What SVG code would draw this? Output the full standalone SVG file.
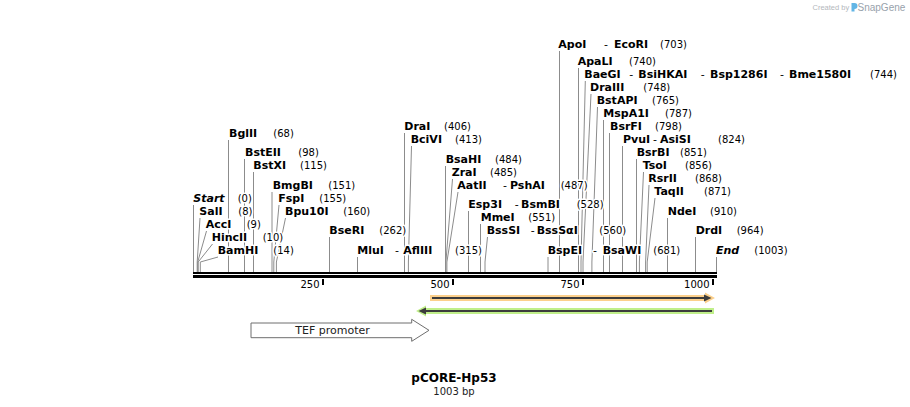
<svg xmlns="http://www.w3.org/2000/svg" width="910" height="407" viewBox="0 0 910 407">
<style>
text{font-family:"DejaVu Sans",Verdana,sans-serif;fill:#000;stroke:#fff;stroke-width:3;stroke-linejoin:round;paint-order:stroke}
.n{font-size:11px;font-weight:bold}
.i{font-style:italic}
.p{font-size:10px}
.h{font-size:11px}
.c{stroke:#8c8c8c;stroke-width:1;fill:none}
.tk{font-size:10px;text-anchor:end}
.wm{font-family:"Liberation Sans",Arial,sans-serif;stroke:none}
</style>
<rect width="910" height="407" fill="#fff"/>
<g id="connectors">
<line class="c" x1="193.5" y1="205" x2="193.5" y2="272"/>
<polyline class="c" points="200,218 197.2,262 197.2,272"/>
<polyline class="c" points="206.5,231 197.7,262 197.7,272"/>
<polyline class="c" points="212.5,244 198.2,262 198.2,272"/>
<polyline class="c" points="218,257 200.3,262 200.3,272"/>
<line class="c" x1="228.5" y1="140" x2="228.5" y2="272"/>
<line class="c" x1="244.5" y1="159" x2="244.5" y2="272"/>
<line class="c" x1="253.5" y1="172" x2="253.5" y2="272"/>
<line class="c" x1="272" y1="192" x2="272" y2="272"/>
<polyline class="c" points="279,205 273.8,262 273.8,272"/>
<polyline class="c" points="285.5,218 276.4,262 276.4,272"/>
<line class="c" x1="329.5" y1="237" x2="329.5" y2="272"/>
<line class="c" x1="357.5" y1="257" x2="357.5" y2="272"/>
<line class="c" x1="404.5" y1="133" x2="404.5" y2="272"/>
<polyline class="c" points="411.5,146 408.4,262 408.4,272"/>
<line class="c" x1="445.5" y1="166" x2="445.5" y2="272"/>
<polyline class="c" points="452.5,179 445.9,262 445.9,272"/>
<polyline class="c" points="458,192 446.9,262 446.9,272"/>
<line class="c" x1="468.5" y1="211" x2="468.5" y2="272"/>
<line class="c" x1="480.5" y1="224" x2="480.5" y2="272"/>
<polyline class="c" points="487.5,237 485,262 485,272"/>
<line class="c" x1="548" y1="257" x2="548" y2="272"/>
<line class="c" x1="559.5" y1="51" x2="559.5" y2="272"/>
<line class="c" x1="578.5" y1="68" x2="578.5" y2="272"/>
<polyline class="c" points="585.3,81 581,262 581,272"/>
<polyline class="c" points="591,94 583,262 583,272"/>
<polyline class="c" points="597.5,107 591.9,262 591.9,272"/>
<line class="c" x1="603.5" y1="120" x2="603.5" y2="272"/>
<line class="c" x1="609.5" y1="133" x2="609.5" y2="272"/>
<line class="c" x1="622.5" y1="146" x2="622.5" y2="272"/>
<line class="c" x1="636.5" y1="159" x2="636.5" y2="272"/>
<polyline class="c" points="643.5,172 639.4,262 639.4,272"/>
<polyline class="c" points="649,185 645.6,262 645.6,272"/>
<polyline class="c" points="655,198 647.2,262 647.2,272"/>
<line class="c" x1="667.5" y1="218" x2="667.5" y2="272"/>
<line class="c" x1="695.5" y1="237" x2="695.5" y2="272"/>
<line class="c" x1="716.5" y1="257" x2="716.5" y2="272"/>
</g>
<g id="backbone">
<rect x="193" y="272" width="524" height="2" fill="#000"/>
<rect x="193" y="275" width="524" height="3" fill="#000"/>
<rect x="322" y="279" width="2" height="6" fill="#000"/>
<rect x="452" y="279" width="2" height="6" fill="#000"/>
<rect x="582" y="279" width="2" height="6" fill="#000"/>
<rect x="712" y="279" width="2" height="6" fill="#000"/>
<text class="tk" x="319.5" y="288">250</text>
<text class="tk" x="449.5" y="288">500</text>
<text class="tk" x="579.5" y="288">750</text>
<text class="tk" x="709.5" y="288">1000</text>
</g>
<g id="e0"><text class="n i" x="193.3" y="202">Start</text><text class="p" x="237.7" y="202">(0)</text></g>
<g id="e8"><text class="n" x="199.3" y="215">SalI</text><text class="p" x="238.3" y="215">(8)</text></g>
<g id="e9"><text class="n" x="205.7" y="228">AccI</text><text class="p" x="246.7" y="228">(9)</text></g>
<g id="e10"><text class="n" x="211.7" y="241">HincII</text><text class="p" x="262.7" y="241">(10)</text></g>
<g id="e14"><text class="n" x="217.7" y="254">BamHI</text><text class="p" x="273.3" y="254">(14)</text></g>
<g id="e68"><text class="n" x="229" y="137">BglII</text><text class="p" x="273.3" y="137">(68)</text></g>
<g id="e98"><text class="n" x="245" y="156">BstEII</text><text class="p" x="298.3" y="156">(98)</text></g>
<g id="e115"><text class="n" x="253.3" y="169">BstXI</text><text class="p" x="300" y="169">(115)</text></g>
<g id="e151"><text class="n" x="272.7" y="189">BmgBI</text><text class="p" x="328.3" y="189">(151)</text></g>
<g id="e155"><text class="n" x="278.3" y="202">FspI</text><text class="p" x="319.3" y="202">(155)</text></g>
<g id="e160"><text class="n" x="285" y="215">Bpu10I</text><text class="p" x="343.3" y="215">(160)</text></g>
<g id="e262"><text class="n" x="329.3" y="234">BseRI</text><text class="p" x="379.3" y="234">(262)</text></g>
<g id="e315"><text class="n" x="357.3" y="254">MluI</text><text class="h" x="395" y="254">-</text><text class="n" x="403.3" y="254">AflIII</text><text class="p" x="455" y="254">(315)</text></g>
<g id="e406"><text class="n" x="404.3" y="130">DraI</text><text class="p" x="444" y="130">(406)</text></g>
<g id="e413"><text class="n" x="410.7" y="143">BciVI</text><text class="p" x="455" y="143">(413)</text></g>
<g id="e484"><text class="n" x="445.7" y="163">BsaHI</text><text class="p" x="495" y="163">(484)</text></g>
<g id="e485"><text class="n" x="451.7" y="176">ZraI</text><text class="p" x="490" y="176">(485)</text></g>
<g id="e487"><text class="n" x="457.3" y="189">AatII</text><text class="h" x="503" y="189">-</text><text class="n" x="510" y="189">PshAI</text><text class="p" x="560.7" y="189">(487)</text></g>
<g id="e528"><text class="n" x="468.3" y="208">Esp3I</text><text class="h" x="514.7" y="208">-</text><text class="n" x="521" y="208">BsmBI</text><text class="p" x="576.7" y="208">(528)</text></g>
<g id="e551"><text class="n" x="480.7" y="221">MmeI</text><text class="p" x="528.3" y="221">(551)</text></g>
<g id="e560"><text class="n" x="486.7" y="234">BssSI</text><text class="h" x="530.7" y="234">-</text><text class="n" x="536.7" y="234">BssSαI</text><text class="p" x="599.3" y="234">(560)</text></g>
<g id="e681"><text class="n" x="547.7" y="254">BspEI</text><text class="h" x="593" y="254">-</text><text class="n" x="602.7" y="254">BsaWI</text><text class="p" x="653.3" y="254">(681)</text></g>
<g id="e703"><text class="n" x="558.3" y="48">ApoI</text><text class="h" x="604" y="48">-</text><text class="n" x="614" y="48">EcoRI</text><text class="p" x="660" y="48">(703)</text></g>
<g id="e740"><text class="n" x="577.7" y="65">ApaLI</text><text class="p" x="629" y="65">(740)</text></g>
<g id="e744"><text class="n" x="584.3" y="78">BaeGI</text><text class="h" x="629.3" y="78">-</text><text class="n" x="638.3" y="78">BsiHKAI</text><text class="h" x="700.7" y="78">-</text><text class="n" x="710" y="78">Bsp1286I</text><text class="h" x="780" y="78">-</text><text class="n" x="789" y="78">Bme1580I</text><text class="p" x="870" y="78">(744)</text></g>
<g id="e748"><text class="n" x="590" y="91">DraIII</text><text class="p" x="643.3" y="91">(748)</text></g>
<g id="e765"><text class="n" x="596.7" y="104">BstAPI</text><text class="p" x="652" y="104">(765)</text></g>
<g id="e787"><text class="n" x="603.3" y="117">MspA1I</text><text class="p" x="665" y="117">(787)</text></g>
<g id="e798"><text class="n" x="610" y="130">BsrFI</text><text class="p" x="655" y="130">(798)</text></g>
<g id="e824"><text class="n" x="623" y="143">PvuI</text><text class="h" x="653" y="143">-</text><text class="n" x="660" y="143">AsiSI</text><text class="p" x="718" y="143">(824)</text></g>
<g id="e851"><text class="n" x="636.7" y="156">BsrBI</text><text class="p" x="680" y="156">(851)</text></g>
<g id="e856"><text class="n" x="642.7" y="169">TsoI</text><text class="p" x="685" y="169">(856)</text></g>
<g id="e868"><text class="n" x="648.3" y="182">RsrII</text><text class="p" x="695" y="182">(868)</text></g>
<g id="e871"><text class="n" x="654.3" y="195">TaqII</text><text class="p" x="704" y="195">(871)</text></g>
<g id="e910"><text class="n" x="667.7" y="215">NdeI</text><text class="p" x="710" y="215">(910)</text></g>
<g id="e964"><text class="n" x="695.7" y="234">DrdI</text><text class="p" x="736.7" y="234">(964)</text></g>
<g id="e1003"><text class="n i" x="716" y="254">End</text><text class="p" x="754.3" y="254">(1003)</text></g>
<g id="primer-fwd">
<path d="M430,295 H705 V292.5 L715,298 L705,303.5 V301 H430 Z" fill="#fcd08c"/>
<line x1="432" y1="298" x2="706" y2="298" stroke="#3c3c3c" stroke-width="2"/>
<path d="M704,294.5 L711.5,298 L704,301.5 Z" fill="#3c3c3c"/>
</g>
<g id="primer-rev">
<path d="M714,308 H426 V305.5 L416,311 L426,316.5 V314 H714 Z" fill="#c0ef8a"/>
<line x1="424" y1="311" x2="712" y2="311" stroke="#3c3c3c" stroke-width="2"/>
<path d="M426,307.5 L418.5,311 L426,314.5 Z" fill="#3c3c3c"/>
</g>
<g id="tef-promoter">
<path d="M251,323 H411.7 V319.3 L429,330.3 L411.7,341.3 V337.7 H251 Z" fill="#fff" stroke="#6e6e6e" stroke-width="1"/>
<text x="332.5" y="334" font-size="11" text-anchor="middle" style="fill:#222;stroke:none">TEF promoter</text>
</g>
<g id="title">
<text x="454" y="382" font-size="12" font-weight="bold" text-anchor="middle">pCORE-Hp53</text>
<text x="454" y="394.5" font-size="10" text-anchor="middle" style="fill:#222">1003 bp</text>
</g>
<g id="watermark">
<text class="wm" x="812.5" y="10" font-size="7.5" style="fill:#b4b8bc">Created by</text>
<path d="M851.5,3 H854.5 A3,3 0 0 1 854.5,9 V11.5 H851.5 Z" fill="#62b5e5"/>
<text class="wm" x="857.5" y="11" font-size="10" style="fill:#98a2ac">SnapGene</text>
</g>
</svg>
